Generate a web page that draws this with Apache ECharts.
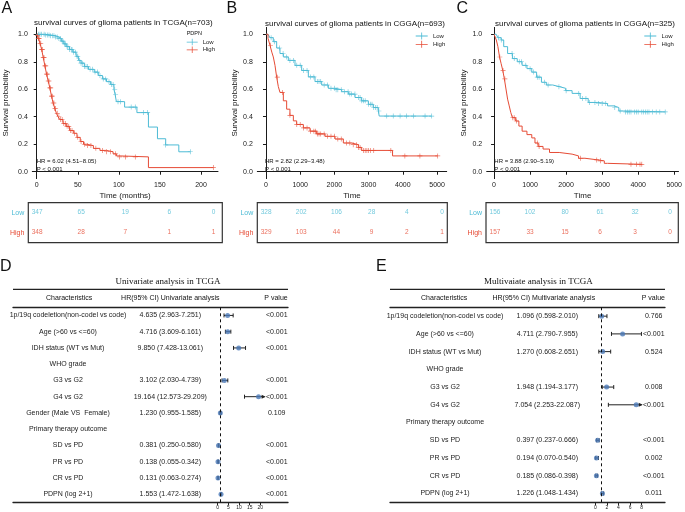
<!DOCTYPE html>
<html><head><meta charset="utf-8">
<script src="https://cdn.jsdelivr.net/npm/echarts@6/dist/echarts.min.js"></script>
<style>html,body{margin:0;padding:0;background:#fff}#c{width:685px;height:512px}</style>
</head><body><div id="c"></div>
<script>
// ---------------- DATA ----------------
// Kaplan-Meier step points [time, survival]
const kmA_low = [[0,1],[10,0.995],[16,0.99],[22,0.98],[27,0.97],[30,0.95],[33,0.93],[36,0.91],[40,0.89],[44,0.87],[48,0.84],[51,0.81],[54,0.79],[58,0.765],[63,0.745],[70,0.725],[75,0.7],[80,0.675],[85,0.655],[90,0.635],[94,0.6],[95.5,0.56],[97,0.51],[107,0.47],[122,0.43],[136,0.325],[147,0.24],[157,0.195],[173,0.145],[187,0.145]];
const kmA_high = [[0,1],[1,0.99],[2,0.97],[4,0.935],[6,0.89],[8,0.83],[10,0.77],[12,0.71],[14,0.66],[16,0.61],[18,0.55],[20,0.5],[22,0.46],[24,0.425],[26,0.4],[28,0.38],[32,0.35],[36,0.33],[40,0.3],[45,0.28],[49,0.25],[53,0.22],[57,0.2],[61,0.19],[69,0.17],[77,0.155],[85,0.145],[93,0.13],[97,0.115],[101,0.108],[136,0.03],[215,0.03]];
const censA_low = [2,4,6,9,11,13,15,17,19,21,23,25,27,29,31,32,34,35,37,38,40,42,43,45,47,49,50,52,54,56,58,60,62,65,68,71,74,77,81,84,88,91,93,95,96,99,102,115,120,130,135,157,187];
const censA_high = [1,2,3,4,5,6,7,8,9,10,11,12,13,14,15,16,17,18,19,20,21,22,23,25,27,29,31,33,35,37,39,41,43,46,50,54,58,62,66,72,80,85,90,96,101,108,120,215];

const kmB_low = [[0,1],[60,0.99],[117,0.975],[214,0.946],[312,0.9],[409,0.86],[507,0.835],[653,0.81],[848,0.774],[1043,0.737],[1238,0.69],[1433,0.656],[1628,0.631],[1823,0.607],[2018,0.597],[2212,0.582],[2407,0.565],[2602,0.54],[2797,0.516],[2992,0.491],[3138,0.467],[3285,0.442],[3310,0.405],[4844,0.405]];
const kmB_high = [[0,1],[60,0.97],[117,0.92],[170,0.87],[214,0.835],[263,0.774],[312,0.688],[360,0.62],[409,0.577],[507,0.516],[604,0.455],[700,0.41],[800,0.37],[897,0.344],[1092,0.319],[1287,0.295],[1481,0.275],[1725,0.258],[2018,0.238],[2261,0.209],[2505,0.197],[2700,0.177],[2797,0.155],[3700,0.115],[5020,0.115]];
const censB_low = [150,250,400,500,600,700,800,900,1000,1100,1200,1300,1400,1500,1550,1600,1700,1800,1900,2000,2050,2100,2200,2300,2400,2450,2500,2600,2700,2750,2800,2850,2900,3000,3050,3100,3150,3200,3250,3300,3530,3720,3920,4110,4310,4650,4844];
const censB_high = [130,330,480,700,900,1000,1100,1200,1300,1400,1450,1500,1550,1600,1700,1800,1900,2000,2100,2200,2350,2450,2550,2650,2700,2750,2850,2900,2950,3000,3050,3150,3650,4060,4500,5020];

const kmC_low = [[0,1],[60,0.99],[107,0.975],[197,0.958],[268,0.91],[376,0.86],[510,0.823],[644,0.8],[779,0.774],[913,0.75],[1047,0.725],[1181,0.688],[1315,0.651],[1450,0.631],[1629,0.619],[1808,0.607],[1987,0.59],[2166,0.57],[2389,0.533],[2613,0.504],[2881,0.496],[3150,0.479],[3329,0.467],[3463,0.442],[3597,0.435],[4750,0.435]];
const kmC_high = [[0,1],[30,0.98],[63,0.958],[107,0.91],[152,0.835],[197,0.786],[242,0.737],[286,0.676],[331,0.602],[376,0.528],[421,0.479],[465,0.43],[510,0.393],[600,0.369],[689,0.332],[779,0.295],[913,0.27],[1047,0.246],[1136,0.209],[1226,0.184],[1360,0.165],[1539,0.14],[1808,0.128],[2166,0.115],[2345,0.098],[2523,0.086],[2881,0.079],[3060,0.061],[3150,0.054],[4100,0.054]];
const censC_low = [120,200,500,560,700,760,880,1000,1100,1200,1250,1400,1500,1800,2000,2350,2450,2550,2650,2800,2900,3000,3100,3350,3500,3650,3700,3750,3800,3900,3950,4000,4100,4150,4200,4250,4300,4400,4500,4600,4750];
const censC_high = [160,250,300,520,560,620,1200,1250,2400,2850,2950,3800,3950,4050,4100];

// Number at risk
const riskTimesA = [0,50,100,150,200];
const riskA_low = [347,65,19,6,0];
const riskA_high = [348,28,7,1,1];
const riskTimesBC = [0,1000,2000,3000,4000,5000];
const riskB_low = [328,202,106,28,4,0];
const riskB_high = [329,103,44,9,2,1];
const riskC_low = [156,102,80,61,32,0];
const riskC_high = [157,33,15,6,3,0];

// Tick labels
const xTicksA = [0,50,100,150,200];
const xTicksBC = [0,1000,2000,3000,4000,5000];
const yTicksKM = [0,0.2,0.4,0.6,0.8,1.0];
const xTicksD = [0,5,10,15,20];
const xTicksE = [0,2,4,6,8];

// Forest plot D (univariate)
const charsD = ["1p/19q codeletion(non-codel vs code)","Age (>60 vs <=60)","IDH status (WT vs Mut)","WHO grade","G3 vs G2","G4 vs G2","Gender (Male VS  Female)","Primary therapy outcome","SD vs PD","PR vs PD","CR vs PD","PDPN (log 2+1)"];
const hrD = [4.635,4.716,9.850,null,3.102,19.164,1.230,null,0.381,0.138,0.131,1.553];
const loD = [2.963,3.609,7.428,null,2.030,12.573,0.955,null,0.250,0.055,0.063,1.472];
const hiD = [7.251,6.161,13.061,null,4.739,29.209,1.585,null,0.580,0.342,0.274,1.638];
const pD = ["<0.001","<0.001","<0.001","","<0.001","<0.001","0.109","","<0.001","<0.001","<0.001","<0.001"];

// Forest plot E (multivariate)
const charsE = ["1p/19q codeletion(non-codel vs code)","Age (>60 vs <=60)","IDH status (WT vs Mut)","WHO grade","G3 vs G2","G4 vs G2","Primary therapy outcome","SD vs PD","PR vs PD","CR vs PD","PDPN (log 2+1)"];
const hrE = [1.096,4.711,1.270,null,1.948,7.054,null,0.397,0.194,0.185,1.226];
const loE = [0.598,2.790,0.608,null,1.194,2.253,null,0.237,0.070,0.086,1.048];
const hiE = [2.010,7.955,2.651,null,3.177,22.087,null,0.666,0.540,0.398,1.434];
const pE = ["0.766","<0.001","0.524","","0.008","<0.001","","<0.001","0.002","<0.001","0.011"];

// ---------------- STYLE ----------------
const FONT = 'Liberation Sans, Arial, Helvetica, sans-serif';
const SERIF = 'Liberation Serif, Times New Roman, serif';
const BLUE = '#4DBBD5', RED = '#E64B35', DOT = '#4a78b6', INK = '#1a1a1a';
const PLUS = 'path://M-0.13,-1H0.13V-0.13H1V0.13H0.13V1H-0.13V0.13H-1V-0.13H-0.13Z';
const LEGICON = 'path://M0,3.1H12V3.9H0Z M5.6,0H6.4V7H5.6Z';

function survAt(curve, t){ let s = curve[0][1]; for (const p of curve){ if (p[0] <= t) s = p[1]; } return s; }
function cens(curve, times){ return times.map(t => [t, survAt(curve, t)]); }

const chart = echarts.init(document.getElementById('c'), null, {renderer:'canvas'});

function kmX(gi, min, max, ticks, name){
  return {type:'value', gridIndex:gi, min:min, max:max,
    axisLine:{show:true, lineStyle:{color:INK, width:1}},
    axisTick:{show:true, customValues:ticks, length:3, lineStyle:{color:INK}},
    axisLabel:{customValues:ticks, fontSize:7, margin:3, color:INK, fontFamily:FONT, formatter:v=>String(v)},
    splitLine:{show:false},
    name:name, nameLocation:'middle', nameGap:13, nameTextStyle:{fontSize:8, color:INK, fontFamily:FONT}};
}
function kmY(gi, gap){
  return {type:'value', gridIndex:gi, min:-0.05, max:1.05,
    axisLine:{show:true, lineStyle:{color:INK, width:1}},
    axisTick:{show:true, customValues:yTicksKM, length:3, lineStyle:{color:INK}},
    axisLabel:{customValues:yTicksKM, fontSize:7, margin:4.5, color:INK, fontFamily:FONT, formatter:v=>v.toFixed(1)},
    splitLine:{show:false},
    name:'Survival probability', nameLocation:'middle', nameGap:gap, nameTextStyle:{fontSize:8, color:INK, fontFamily:FONT}};
}
function riskX(gi, min, max){ return {type:'value', gridIndex:gi, min:min, max:max, show:false}; }
function riskY(gi){
  return {type:'category', gridIndex:gi, data:['Low','High'], inverse:true,
    axisLine:{show:false}, axisTick:{show:false}, splitLine:{show:false},
    axisLabel:{fontSize:7, margin:4, fontFamily:FONT, color:(v)=> v==='Low'?BLUE:RED}};
}
function kmSeries(idx, curve, color, name){
  return {type:'line', name:name, xAxisIndex:idx, yAxisIndex:idx, data:curve, step:'end', showSymbol:false,
    lineStyle:{color:color, width:1}, itemStyle:{color:color}, silent:true, z:3};
}
function censSeries(idx, curve, times, color){
  return {type:'scatter', name:'c', xAxisIndex:idx, yAxisIndex:idx, data:cens(curve, times), symbol:PLUS, symbolSize:5,
    itemStyle:{color:color}, silent:true, z:4};
}
function riskSeries(idx, times, vals, row, color){
  return {type:'scatter', name:'r', xAxisIndex:idx, yAxisIndex:idx, data:times.map((t,i)=>[t,row,vals[i]]),
    symbolSize:1, itemStyle:{color:'rgba(0,0,0,0)'}, silent:true,
    label:{show:true, position:'inside', formatter:p=>String(p.value[2]), color:color, fontSize:6.5, fontFamily:FONT}};
}
function tableX(gi, pos){
  return {type:'value', gridIndex:gi, min:0, max:1, position:pos,
    axisLine:{show:true, onZero:false, lineStyle:{color:'#222', width:1.3}}, axisTick:{show:false}, axisLabel:{show:false}, splitLine:{show:false}};
}
function forestX(gi, max, ticks){
  return {type:'value', gridIndex:gi, min:0, max:max,
    axisLine:{show:true, onZero:false, lineStyle:{color:'#222', width:1}},
    axisTick:{show:true, customValues:ticks, length:3, lineStyle:{color:'#222'}},
    axisLabel:{customValues:ticks, fontSize:5, margin:3, color:'#222', fontFamily:FONT},
    splitLine:{show:false}};
}
function catY(gi, rows){ return {type:'category', gridIndex:gi, data:rows.map((r,i)=>String(i)), inverse:true, show:false}; }

function tableText(xi, yi, chars, hr, lo, hi, p){
  return {type:'custom', xAxisIndex:xi, yAxisIndex:yi, silent:true,
    data: chars.map((c,i)=>[0.5,i]),
    renderItem:(params, api)=>{
      const i = params.dataIndex;
      const y = api.coord([0,i])[1];
      const st = (x, t)=>({type:'text', x:x, y:y, style:{text:t, align:'center', verticalAlign:'middle', fontSize:7, fontFamily:FONT, fill:'#222'}});
      const ch = [st(api.coord([0.2,i])[0], chars[i])];
      if (hr[i] != null) ch.push(st(api.coord([0.572,i])[0], hr[i].toFixed(3)+' ('+lo[i].toFixed(3)+'-'+hi[i].toFixed(3)+')'));
      if (p[i]) ch.push(st(api.coord([0.959,i])[0], p[i]));
      return {type:'group', children:ch};
    }};
}
function whiskers(xi, yi, hr, lo, hi, max){
  return {type:'custom', xAxisIndex:xi, yAxisIndex:yi, silent:true, z:3,
    data: hr.map((v,i)=>[v==null?0:v, i]),
    renderItem:(params, api)=>{
      const i = params.dataIndex;
      if (hr[i] == null) return null;
      const a = api.coord([lo[i], i]);
      const clipped = hi[i] > max;
      const b = api.coord([Math.min(hi[i], max), i]);
      const y = a[1];
      const ls = {stroke:'#222', lineWidth:1};
      const ch = [
        {type:'line', shape:{x1:a[0], y1:y, x2:b[0], y2:y}, style:ls},
        {type:'line', shape:{x1:a[0], y1:y-2, x2:a[0], y2:y+2}, style:ls}
      ];
      if (clipped) ch.push({type:'polygon', shape:{points:[[b[0]+1,y],[b[0]-3,y-2],[b[0]-3,y+2]]}, style:{fill:'#222'}});
      else ch.push({type:'line', shape:{x1:b[0], y1:y-2, x2:b[0], y2:y+2}, style:ls});
      return {type:'group', children:ch};
    }};
}
function dots(xi, yi, hr){
  return {type:'scatter', xAxisIndex:xi, yAxisIndex:yi, silent:true, z:4,
    data: hr.map((v,i)=> v==null? null : [v,i]).filter(d=>d),
    symbolSize:5, itemStyle:{color:DOT},
    markLine:{silent:true, symbol:'none', label:{show:false}, animation:false,
      lineStyle:{type:[3,3], color:'#111', width:1}, data:[{xAxis:1}]}};
}

function txt(x, y, t, size, opt){
  opt = opt || {};
  return {type:'text', x:x, y:y, silent:true, style:{text:t, fontSize:size, fontFamily:opt.family||FONT, fill:opt.fill||'#111',
    align:opt.align||'left', verticalAlign:'middle', fontWeight:opt.weight||'normal'}};
}

const option = {
  animation:false, backgroundColor:'#fff',
  textStyle:{fontFamily:FONT},
  grid:[
    {left:32.3, top:27.4, width:185.7, height:151.2},
    {left:257.3, top:27.4, width:189.4, height:151.2},
    {left:486.7, top:27.4, width:198.3, height:151.2},
    {left:28.3, top:202.7, width:194, height:40, show:true, borderColor:'#333', borderWidth:1.2},
    {left:257.3, top:202.7, width:190, height:40, show:true, borderColor:'#333', borderWidth:1.2},
    {left:486, top:202.7, width:192.3, height:40, show:true, borderColor:'#333', borderWidth:1.2},
    {left:13, top:307.3, width:275, height:195},
    {left:217.7, top:307.3, width:46.9, height:195},
    {left:390, top:307.3, width:275, height:195},
    {left:595.3, top:307.3, width:46.4, height:195}
  ],
  xAxis:[
    kmX(0, -5.36, 220.7, xTicksA, 'Time (months)'),
    kmX(1, -254, 5283, xTicksBC, 'Time'),
    kmX(2, -204, 5119, xTicksBC, 'Time'),
    riskX(3, -10, 210),
    riskX(4, -250, 5150),
    riskX(5, -257, 5237),
    tableX(6, 'bottom'), tableX(6, 'top'),
    forestX(7, 22, xTicksD),
    tableX(8, 'bottom'), tableX(8, 'top'),
    forestX(9, 8, xTicksE)
  ],
  yAxis:[
    kmY(0, 22.5), kmY(1, 18.3), kmY(2, 18.7),
    riskY(3), riskY(4), riskY(5),
    catY(6, charsD), catY(7, charsD), catY(8, charsE), catY(9, charsE)
  ],
  legend:[
    {left:186.7, top:38.8, orient:'vertical', data:['Low','High'], icon:LEGICON, itemWidth:11, itemHeight:7, itemGap:1.4, padding:0, selectedMode:false, textStyle:{fontSize:6, color:'#222', fontFamily:FONT}},
    {left:415.7, top:32.5, orient:'vertical', data:['Low','High'], icon:LEGICON, itemWidth:12.5, itemHeight:7, itemGap:1.3, padding:0, selectedMode:false, textStyle:{fontSize:6, color:'#222', fontFamily:FONT}},
    {left:644.3, top:32.5, orient:'vertical', data:['Low','High'], icon:LEGICON, itemWidth:12.5, itemHeight:7, itemGap:1.3, padding:0, selectedMode:false, textStyle:{fontSize:6, color:'#222', fontFamily:FONT}}
  ],
  series:[
    kmSeries(0, kmA_low, BLUE, 'Low'), kmSeries(0, kmA_high, RED, 'High'),
    kmSeries(1, kmB_low, BLUE, 'Low'), kmSeries(1, kmB_high, RED, 'High'),
    kmSeries(2, kmC_low, BLUE, 'Low'), kmSeries(2, kmC_high, RED, 'High'),
    censSeries(0, kmA_low, censA_low, BLUE), censSeries(0, kmA_high, censA_high, RED),
    censSeries(1, kmB_low, censB_low, BLUE), censSeries(1, kmB_high, censB_high, RED),
    censSeries(2, kmC_low, censC_low, BLUE), censSeries(2, kmC_high, censC_high, RED),
    riskSeries(3, riskTimesA, riskA_low, 'Low', BLUE), riskSeries(3, riskTimesA, riskA_high, 'High', RED),
    riskSeries(4, riskTimesBC, riskB_low, 'Low', BLUE), riskSeries(4, riskTimesBC, riskB_high, 'High', RED),
    riskSeries(5, riskTimesBC, riskC_low, 'Low', BLUE), riskSeries(5, riskTimesBC, riskC_high, 'High', RED),
    tableText(6, 6, charsD, hrD, loD, hiD, pD),
    whiskers(8, 7, hrD, loD, hiD, 22),
    dots(8, 7, hrD),
    tableText(9, 8, charsE, hrE, loE, hiE, pE),
    whiskers(11, 9, hrE, loE, hiE, 8),
    dots(11, 9, hrE)
  ],
  graphic:[
    txt(1.5, 8.8, 'A', 16), txt(226.5, 8.8, 'B', 16), txt(456.5, 8.8, 'C', 16),
    txt(0, 266.5, 'D', 16), txt(376, 266.5, 'E', 16),
    txt(123.3, 22.7, 'survival curves of glioma patients in TCGA(n=703)', 8, {align:'center'}),
    txt(355, 23.3, 'survival curves of glioma patients in CGGA(n=693)', 8, {align:'center'}),
    txt(585, 23.3, 'survival curves of glioma patients in CGGA(n=325)', 8, {align:'center'}),
    txt(186.7, 33.3, 'PDPN', 5.5),
    txt(36.7, 161, 'HR = 6.02 (4.51\u22128.05)', 6),
    txt(36.7, 169.3, 'P < 0.001', 6),
    txt(265, 161, 'HR = 2.82 (2.29\u22123.48)', 6),
    txt(265, 169.5, 'P < 0.001', 6),
    txt(494.3, 161, 'HR = 3.88 (2.90\u22125.19)', 6),
    txt(494.3, 169.3, 'P < 0.001', 6),
    txt(168, 281.7, 'Univariate analysis in TCGA', 9, {align:'center', family:SERIF}),
    txt(538.3, 281.7, 'Multivaiate analysis in TCGA', 9, {align:'center', family:SERIF}),
    {type:'line', silent:true, shape:{x1:13, y1:289.3, x2:288, y2:289.3}, style:{stroke:'#222', lineWidth:1.3}},
    {type:'line', silent:true, shape:{x1:390, y1:289.3, x2:665, y2:289.3}, style:{stroke:'#222', lineWidth:1.3}},
    txt(69.2, 297.8, 'Characteristics', 7, {align:'center'}),
    txt(170.3, 297.8, 'HR(95% CI) Univariate analysis', 7, {align:'center'}),
    txt(276, 297.8, 'P value', 7, {align:'center'}),
    txt(444.2, 298, 'Characteristics', 7, {align:'center'}),
    txt(543.8, 298, 'HR(95% CI) Multivariate analysis', 7, {align:'center'}),
    txt(653.3, 298, 'P value', 7, {align:'center'})
  ]
};
chart.setOption(option);
</script></body></html>
